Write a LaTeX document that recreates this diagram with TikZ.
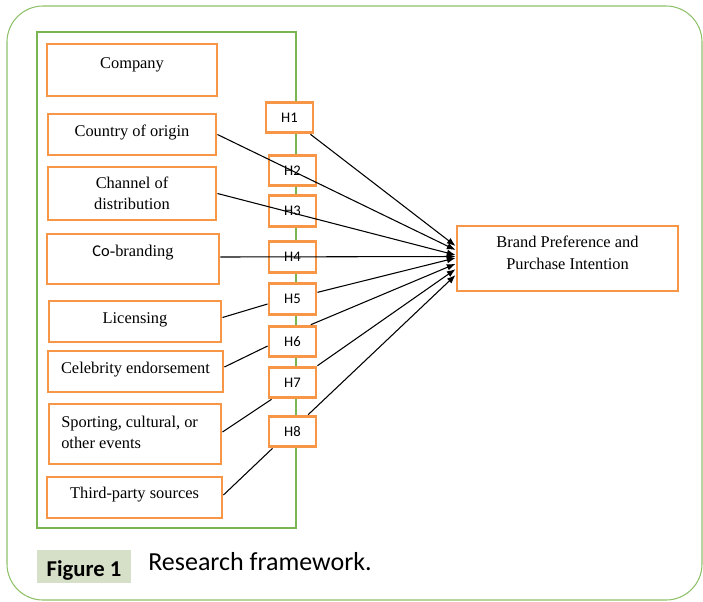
\documentclass[tikz,border=0pt]{standalone}
\usepackage{fontspec}
\setmainfont{Liberation Serif}
\newfontfamily\calibri{Carlito}
\usetikzlibrary{arrows.meta,fit}
\definecolor{boxorange}{RGB}{247,150,70}
\definecolor{framegreen}{RGB}{122,182,80}
\definecolor{capfill}{RGB}{214,223,199}
\begin{document}
\begin{tikzpicture}[x=0.75pt,y=-0.75pt,
  obox/.style={draw=boxorange,line width=2.2pt,fill=white,inner sep=0pt},
  hbox/.style={obox,minimum width=35.25pt,minimum height=23pt,
    font=\calibri\fontsize{11}{13}\selectfont},
  btext/.style={anchor=base,inner sep=0pt,font=\fontsize{12.3}{14}\selectfont},
  link/.style={draw=black,line width=0.8pt},
  arr/.style={link,-{Latex[length=6.5pt,width=5pt]}}]
\useasboundingbox (0,0) rectangle (703,601);

% outer frame and group frame
\draw[framegreen!85,line width=0.8pt,rounded corners=27pt] (7,6) rectangle (702,600);
\draw[framegreen,line width=0.8pt] (37,32) rectangle (296,528);

% antecedent boxes
\node[obox,fit={(47,44) (217,96)}] (company) {};
\node[obox,fit={(48,114) (216,155)}] (country) {};
\node[obox,fit={(48,167) (216,220)}] (channel) {};
\node[obox,fit={(47,234) (219,284)}] (cobrand) {};
\node[obox,fit={(49,301) (221,342)}] (licensing) {};
\node[obox,fit={(48,351) (223,392)}] (celebrity) {};
\node[obox,fit={(49,404) (221,464)}] (sporting) {};
\node[obox,fit={(47,477) (222,518)}] (thirdparty) {};

\node[btext] (company-t) at (132,68) {Company};
\node[btext] (country-t) at (132,136) {Country of origin};
\node[btext] (channel-t1) at (132,188) {Channel of};
\node[btext] (channel-t2) at (132,209) {distribution};
\node[btext] (cobrand-t) at (133,256) {{\calibri Co}-branding};
\node[btext] (licensing-t) at (135,323) {Licensing};
\node[btext] (celebrity-t) at (135.5,373) {Celebrity endorsement};
\node[btext,anchor=base west] (sporting-t1) at (61,427) {Sporting, cultural, or};
\node[btext,anchor=base west] (sporting-t2) at (61,448) {other events};
\node[btext] (thirdparty-t) at (134.5,498) {Third-party sources};

% hypothesis boxes
\node[hbox] (h1) at (289.5,117.5) {H1};
\node[hbox] (h2) at (292.5,170.5) {H2};
\node[hbox] (h3) at (292.5,211) {H3};
\node[hbox] (h4) at (292.5,257) {H4};
\node[hbox] (h5) at (292.5,299) {H5};
\node[hbox] (h6) at (292.5,341.5) {H6};
\node[hbox] (h7) at (292.5,382.5) {H7};
\node[hbox] (h8) at (292.5,431.5) {H8};

% outcome box
\node[obox,fit={(457,226) (678,291)}] (target) {};
\node[btext] (target-t1) at (567.5,247) {Brand Preference and};
\node[btext] (target-t2) at (567.5,269) {Purchase Intention};

% antecedents to hypothesis boxes
\draw[link] ([yshift=3pt]licensing.east) -- ([yshift=-3.75pt]h5.west);
\draw[link] ([yshift=3.4pt]celebrity.east) -- ([yshift=-3.4pt]h6.west);
\draw[link] ([yshift=1.5pt]sporting.east) -- ([xshift=3pt]h7.south west);
\draw[link] ([yshift=1.9pt]thirdparty.east) -- ([xshift=3.75pt]h8.south west);

% paths into the outcome
\draw[arr] ([xshift=-3pt]h1.south east) -- ([yshift=9.4pt]target.west);
\draw[arr] (country.east) -- ([yshift=6.4pt]target.west);
\draw[arr] (channel.east) -- ([yshift=2.6pt]target.west);
\draw[arr] ([yshift=1.5pt]cobrand.east) -- ([yshift=1.5pt]target.west);
\draw[arr] ([yshift=5pt]h5.east) -- ([yshift=0.4pt]target.west);
\draw[arr] ([xshift=-5pt]h6.north east) -- ([yshift=-4pt]target.west);
\draw[arr] (h7.north east) -- ([yshift=-8pt]target.west);
\draw[arr] ([xshift=-7pt]h8.north east) -- ([yshift=-12.4pt]target.west);

% caption
\node[fill=capfill,inner sep=0pt,fit={(37,550) (131,583)}] (figbox) {};
\node[anchor=base,inner sep=0pt,font=\calibri\bfseries\fontsize{17}{20}\selectfont] (figlabel) at (84,576) {Figure 1};
\node[anchor=base west,inner sep=0pt,font=\calibri\fontsize{19.5}{23}\selectfont] (captext) at (148,570) {Research framework.};
\end{tikzpicture}
\end{document}
